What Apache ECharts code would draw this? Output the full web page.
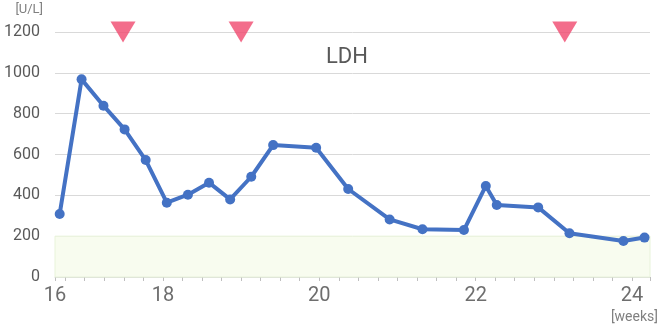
<!DOCTYPE html>
<html>
<head>
<meta charset="utf-8">
<script src="https://cdn.jsdelivr.net/npm/echarts@6/dist/echarts.min.js"></script>
<style>
  html, body { margin: 0; padding: 0; background: #fff; }
  #chart { width: 665px; height: 329px; }
</style>
</head>
<body>
<div id="chart"></div>
<script>
// weeks of measurement and LDH value (U/L)
var weeks = [16.68, 16.96, 17.24, 17.51, 17.78, 18.05, 18.32, 18.59, 18.86, 19.13, 19.41,
  19.96, 20.37, 20.90, 21.32, 21.85, 22.13, 22.27, 22.80, 23.20, 23.89, 24.16];
var ldh = [309, 968, 839, 723, 573, 364, 403, 462, 380, 491, 646,
  633, 431, 282, 234, 230, 446, 353, 341, 214, 176, 193];

// treatment markers (triangles at the top)
var markerWeeks = [17.49, 19.0, 23.14];

// axis
var xMin = 16.62, xMax = 24.23;
var xTickValues = [16.62, 18, 20, 22, 24];
var xTickLabels = ['16', '18', '20', '22', '24'];
var normalRange = [0, 200];

var chart = echarts.init(document.getElementById('chart'));
var font = 'Roboto, "Noto Sans CJK JP", sans-serif';

chart.setOption({
  animation: false,
  textStyle: { fontFamily: font },
  title: {
    text: 'LDH',
    left: 342,
    top: 41,
    textAlign: 'center',
    textStyle: { fontSize: 22, fontWeight: 'normal', color: '#595959', fontFamily: font }
  },
  grid: { left: 55, right: 15, top: 32, bottom: 52 },
  xAxis: {
    type: 'value',
    min: xMin,
    max: xMax,
    splitNumber: 8,
    name: '[weeks]',
    nameLocation: 'end',
    nameGap: 8,
    nameTextStyle: { color: '#808080', fontSize: 14, align: 'right', verticalAlign: 'top', padding: [34, 0, 0, 0] },
    splitLine: { show: false },
    axisLine: { show: true, lineStyle: { color: '#d9d9d9', width: 1 } },
    axisTick: { show: true, length: 4, lineStyle: { color: '#bfbfbf', width: 1 } },
    minorTick: { show: true, splitNumber: 4, length: 4, lineStyle: { color: '#bfbfbf', width: 1 } },
    axisLabel: {
      customValues: xTickValues,
      margin: 9,
      fontSize: 20,
      color: '#6e6e6e',
      formatter: function (v) {
        var idx = xTickValues.indexOf(v);
        return idx >= 0 ? xTickLabels[idx] : '';
      }
    }
  },
  yAxis: {
    type: 'value',
    min: 0,
    max: 1200,
    interval: 200,
    name: '[U/L]',
    nameLocation: 'end',
    nameGap: 16,
    nameTextStyle: { color: '#808080', fontSize: 13, align: 'right', padding: [0, 12, 0, 0] },
    axisLine: { show: false },
    axisTick: { show: false },
    axisLabel: { fontSize: 16, color: '#595959', margin: 15, formatter: function (v) { return String(v); } },
    splitLine: { lineStyle: { color: '#d9d9d9', width: 1 } }
  },
  series: [
    {
      type: 'line',
      data: weeks.map(function (w, i) { return [w, ldh[i]]; }),
      symbol: 'circle',
      symbolSize: 10,
      lineStyle: { color: '#4472C4', width: 4 },
      itemStyle: { color: '#4472C4' },
      markArea: {
        silent: true,
        itemStyle: { color: '#f8fcef', borderColor: '#e8f3da', borderWidth: 1 },
        data: [[{ yAxis: normalRange[0] }, { yAxis: normalRange[1] }]]
      },
      z: 3
    },
    {
      type: 'scatter',
      data: markerWeeks.map(function (w) { return [w, 1200]; }),
      symbol: 'triangle',
      symbolRotate: 180,
      symbolSize: [25, 21],
      itemStyle: { color: '#f0486e' },
      clip: false,
      z: 4
    }
  ]
});
</script>
</body>
</html>
